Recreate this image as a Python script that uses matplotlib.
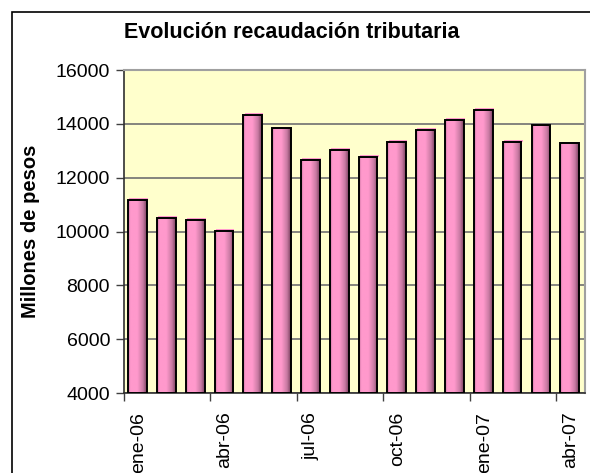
import numpy as np
import matplotlib
matplotlib.use('Agg')
from matplotlib import pyplot as plt
from matplotlib.colors import LinearSegmentedColormap
from matplotlib.patches import Rectangle

# Datos (millones de pesos), ene-06 .. abr-07
meses = ['ene-06', 'feb-06', 'mar-06', 'abr-06', 'may-06', 'jun-06',
         'jul-06', 'ago-06', 'sep-06', 'oct-06', 'nov-06', 'dic-06',
         'ene-07', 'feb-07', 'mar-07', 'abr-07']
recaudacion = [11180, 10500, 10430, 10030, 14330, 13840, 12660, 13030,
               12780, 13340, 13770, 14140, 14520, 13340, 13950, 13280]
etiquetas = ['ene-06', 'abr-06', 'jul-06', 'oct-06', 'ene-07', 'abr-07']

plt.rcParams['font.family'] = ['Liberation Sans', 'DejaVu Sans']

fig = plt.figure(figsize=(5.9, 4.73), dpi=100)
ax = fig.add_axes([124/590, 1 - 393/473, 461/590, 323/473])
ax.set_facecolor('#FFFFCC')

# borde del area del grafico
fig.patches.append(Rectangle((12/590, -0.2), 1.2, 1.2 - 12/473,
                             transform=fig.transFigure, fill=False,
                             edgecolor='black', linewidth=1.2))

# degradado tipo cilindro para las barras
rosa = LinearSegmentedColormap.from_list(
    'rosa', [(0, '#C8709E'), (0.12, '#FF99CC'), (0.5, '#FF99CC'),
             (0.8, '#C87AA2'), (1, '#7A4060')])
grad = np.linspace(0, 1, 64).reshape(1, -1)

base = 4000
ancho = 0.65
x = np.arange(len(meses))
for xi, v in zip(x, recaudacion):
    x0 = xi - ancho / 2 - 0.03
    # cara superior (efecto 3D)
    ax.add_patch(Rectangle((x0 + 0.04, v), ancho, 60, facecolor='#FF99CC',
                           edgecolor='none', zorder=2))
    ax.imshow(grad, extent=[x0, x0 + ancho, base, v], aspect='auto',
              cmap=rosa, zorder=3, interpolation='bilinear')
    ax.add_patch(Rectangle((x0, base), ancho, v - base, fill=False,
                           edgecolor='black', linewidth=1.4, zorder=4))

ax.set_xlim(-0.5, len(meses) - 0.5)
ax.set_ylim(4000, 16000)
ax.set_yticks(np.arange(4000, 16001, 2000))
ax.yaxis.grid(True, color='#707070', linewidth=1.2)
ax.set_axisbelow(True)

ax.set_xticks(np.arange(-0.5, len(meses), 3))
ax.set_xticklabels([])
ax.set_xticks(x[::3], minor=True)
ax.set_xticklabels(etiquetas, minor=True, rotation=90, va='top', ha='center')
ax.tick_params(axis='x', which='minor', length=0, pad=13.5, labelsize=14)
ax.tick_params(axis='x', which='major', length=6, width=1, color='#404040')
ax.tick_params(axis='y', length=6, width=1, color='#404040', pad=4,
               labelsize=14)

for s in ['top', 'right']:
    ax.spines[s].set_color('#A0A0A0')
    ax.spines[s].set_linewidth(1.5)
for s in ['left', 'bottom']:
    ax.spines[s].set_color('#303030')
    ax.spines[s].set_linewidth(1.2)

fig.text(0.494, 1 - 33/473, 'Evolución recaudación tributaria',
         ha='center', va='center', fontsize=15.5, fontweight='bold')
fig.text(31/590, 1 - 231/473, 'Millones de pesos', rotation=90,
         ha='center', va='center', fontsize=14.5, fontweight='bold')

fig.savefig('out.png', dpi=100)
